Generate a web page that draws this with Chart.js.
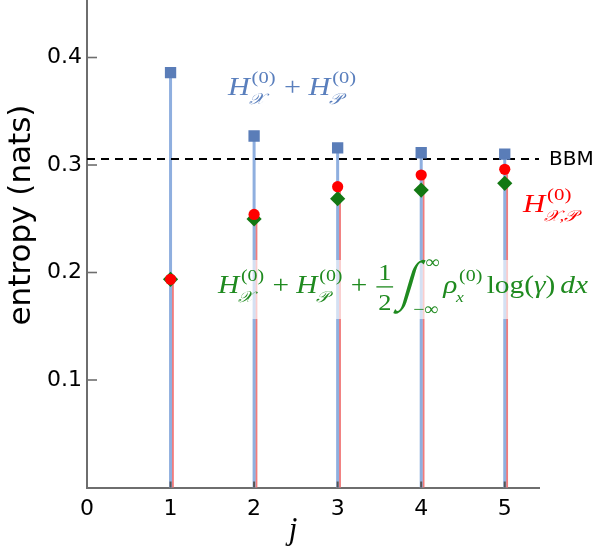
<!DOCTYPE html>
<html>
<head>
<meta charset="utf-8">
<script src="https://cdn.jsdelivr.net/npm/chart.js@4.4.1/dist/chart.umd.min.js"></script>
<style>
  body { margin: 0; background: #fff; }
  #wrap { width: 599px; height: 547px; }
</style>
</head>
<body>
<div id="wrap"><canvas id="entropyChart" width="599" height="547"></canvas></div>
<script>
// values
const jValues = [1, 2, 3, 4, 5];
const sumEntropy = [0.386, 0.327, 0.316, 0.3114, 0.3102];          // H_X + H_P
const jointEntropy = [0.1937, 0.254, 0.2798, 0.2907, 0.296];        // H_X,P
const correctedEntropy = [0.1937, 0.2498, 0.2687, 0.2767, 0.283];   // H_X + H_P + 1/2 int ...
const bbmBound = 0.3056;
const xTickLabels = ["0", "1", "2", "3", "4", "5"];
const yTickLabels = ["0.1", "0.2", "0.3", "0.4"];
const xMax = 5.41;
const yMax = 0.4535;

const axisGrey = "#6e6e6e";
const SERIF = '"Liberation Serif", "DejaVu Serif", serif';

function serif(style, px) {
    return (style === "i" ? "italic " : "") + px + "px " + SERIF;
}

// tiny math typesetter: lays out runs left to right from baseline 0
function mathLayout(ctx, items, size, draw) {
    const small = size * 0.68;
    const tiny = size * 0.6;
    let x = 0;
    for (const it of items) {
        if (it.t !== undefined) {
            ctx.font = serif(it.f, size);
            if (draw) ctx.fillText(it.t, x, 0);
            x += ctx.measureText(it.t).width;
        } else if (it.sp !== undefined) {
            x += it.sp * size;
        } else if (it.sup !== undefined) {
            ctx.font = serif("r", small);
            const wSup = ctx.measureText(it.sup).width;
            if (draw) ctx.fillText(it.sup, x + 0.06 * size, -0.46 * size);
            ctx.font = serif("i", tiny);
            const wSub = ctx.measureText(it.sub).width;
            if (draw) ctx.fillText(it.sub, x - 0.04 * size, 0.34 * size);
            x += Math.max(wSup + 0.06 * size, wSub - 0.04 * size) + 0.03 * size;
        } else if (it.frac !== undefined) {
            ctx.font = serif("r", size * 0.9);
            const [n, d] = it.frac;
            const w = Math.max(ctx.measureText(n).width, ctx.measureText(d).width) + 0.24 * size;
            if (draw) {
                ctx.textAlign = "center";
                ctx.fillText(n, x + w / 2, -0.5 * size);
                ctx.fillText(d, x + w / 2, 0.66 * size);
                ctx.textAlign = "left";
                ctx.fillRect(x + 0.06 * size, -0.26 * size, w - 0.12 * size, Math.max(1.2, 0.05 * size));
            }
            x += w;
        } else if (it.int !== undefined) {
            const [lo, hi] = it.int;
            ctx.font = serif("r", 100);
            const m0 = ctx.measureText("\u222B");
            const h0 = m0.actualBoundingBoxAscent + m0.actualBoundingBoxDescent;
            const px = 100 * (2.1 * size) / h0;
            ctx.font = serif("r", px);
            const m = ctx.measureText("\u222B");
            const base = -0.25 * size + (m.actualBoundingBoxAscent - m.actualBoundingBoxDescent) / 2;
            if (draw) {
                ctx.save();
                ctx.translate(x + 0.12 * size, base);
                ctx.transform(0.72, 0, -0.26, 1, 0, 0);
                ctx.fillText("\u222B", 0, 0);
                ctx.restore();
            }
            ctx.font = serif("r", small);
            const wLo = ctx.measureText(lo).width;
            if (draw) {
                ctx.fillText(hi, x + 1.0 * size, -0.98 * size);
                ctx.fillText(lo, x + 0.58 * size, 0.86 * size);
            }
            x += 0.58 * size + wLo + 0.15 * size;
        }
    }
    return x;
}

function drawMath(ctx, items, x0, baseline, size, targetWidth, color) {
    ctx.save();
    ctx.textBaseline = "alphabetic";
    ctx.textAlign = "left";
    const natural = mathLayout(ctx, items, size, false);
    const k = targetWidth / natural;
    ctx.translate(x0, baseline);
    ctx.scale(k, 1);
    ctx.fillStyle = color;
    mathLayout(ctx, items, size, true);
    ctx.restore();
}

const blueLabel = [
    { t: "H", f: "i" }, { sup: "(0)", sub: "\u{1D4B3}" },
    { t: " + ", f: "r" },
    { t: "H", f: "i" }, { sup: "(0)", sub: "\u{1D4AB}" }
];
const redLabel = [
    { t: "H", f: "i" }, { sup: "(0)", sub: "\u{1D4B3},\u{1D4AB}" }
];
const greenLabel = [
    { t: "H", f: "i" }, { sup: "(0)", sub: "\u{1D4B3}" },
    { t: " + ", f: "r" },
    { t: "H", f: "i" }, { sup: "(0)", sub: "\u{1D4AB}" },
    { t: " + ", f: "r" },
    { frac: ["1", "2"] },
    { sp: 0.05 },
    { int: ["\u2212\u221E", "\u221E"] },
    { t: "\u03C1", f: "i" }, { sup: "(0)", sub: "x" },
    { sp: 0.12 },
    { t: "log(", f: "r" }, { t: "\u03B3", f: "i" }, { t: ")", f: "r" },
    { sp: 0.17 },
    { t: "dx", f: "i" }
];

const stemPlugin = {
    id: "stems",
    beforeDatasetsDraw(chart) {
        const ctx = chart.ctx;
        const y0 = chart.scales.y.getPixelForValue(0);
        chart.data.datasets.forEach((ds, i) => {
            if (!ds.stemColor) return;
            const meta = chart.getDatasetMeta(i);
            ctx.save();
            ctx.strokeStyle = ds.stemColor;
            ctx.lineWidth = ds.stemWidth;
            meta.data.forEach(pt => {
                ctx.beginPath();
                ctx.moveTo(pt.x + ds.stemShift, pt.y);
                ctx.lineTo(pt.x + ds.stemShift, y0);
                ctx.stroke();
            });
            ctx.restore();
        });
    }
};

const decorPlugin = {
    id: "decor",
    afterDatasetsDraw(chart) {
        const { ctx, chartArea, scales: { x, y } } = chart;
        ctx.save();
        // white veil behind the long green formula
        ctx.fillStyle = "rgba(255,255,255,0.62)";
        ctx.fillRect(212, 260, 382, 59);

        // inward ticks on the y axis
        ctx.strokeStyle = axisGrey;
        ctx.lineWidth = 1.6;
        y.ticks.forEach(t => {
            const hund = Math.round(t.value * 100);
            if (hund === 0 || Math.abs(t.value * 100 - hund) > 1e-6) return;
            const len = hund % 10 === 0 ? 10 : 6;
            const py = y.getPixelForValue(t.value);
            ctx.beginPath();
            ctx.moveTo(chartArea.left, py);
            ctx.lineTo(chartArea.left + len, py);
            ctx.stroke();
        });
        // short upward ticks on the x axis
        ctx.strokeStyle = "#555";
        ctx.lineWidth = 2;
        x.ticks.forEach(t => {
            if (!Number.isInteger(t.value) || t.value === 0) return;
            const px = x.getPixelForValue(t.value);
            ctx.beginPath();
            ctx.moveTo(px, chartArea.bottom);
            ctx.lineTo(px, chartArea.bottom - 6);
            ctx.stroke();
        });
        ctx.restore();
    },
    afterDraw(chart) {
        const { ctx, scales: { y } } = chart;
        ctx.save();
        ctx.fillStyle = "#000";
        ctx.textBaseline = "alphabetic";

        ctx.save();
        ctx.font = '31px "DejaVu Sans"';
        ctx.textAlign = "center";
        ctx.translate(30, 215);
        ctx.rotate(-Math.PI / 2);
        ctx.fillText("entropy (nats)", 0, 0);
        ctx.restore();

        ctx.font = "italic 31px " + SERIF;
        ctx.textAlign = "center";
        ctx.fillText("j", 293, 539);

        ctx.font = '20px "DejaVu Sans"';
        ctx.textAlign = "left";
        ctx.textBaseline = "middle";
        ctx.fillText("BBM", 549, y.getPixelForValue(bbmBound) + 1);
        ctx.restore();

        drawMath(ctx, blueLabel, 228, 95, 26, 129, "#5a7fbd");
        drawMath(ctx, redLabel, 523, 212, 26, 55, "#ff0000");
        drawMath(ctx, greenLabel, 218, 293, 26, 370, "#1f8a1f");
    }
};

const tickFont = { family: "DejaVu Sans", size: 22 };

new Chart(document.getElementById("entropyChart"), {
    type: "scatter",
    data: {
        datasets: [
            {
                label: "joint",
                data: jValues.map((j, i) => ({ x: j, y: jointEntropy[i] })),
                pointStyle: "circle",
                pointRadius: 5.6,
                pointBackgroundColor: "#ff0000",
                pointBorderWidth: 0,
                stemColor: "#f27b7b",
                stemWidth: 2.2,
                stemShift: 2.2,
                order: 1
            },
            {
                label: "corrected",
                data: jValues.map((j, i) => ({ x: j, y: correctedEntropy[i] })),
                pointStyle: "rectRot",
                pointRadius: 7.6,
                pointBackgroundColor: "#137813",
                pointBorderWidth: 0,
                order: 2
            },
            {
                label: "sum",
                data: jValues.map((j, i) => ({ x: j, y: sumEntropy[i] })),
                pointStyle: "rect",
                pointRadius: 8,
                pointBackgroundColor: "#5a7db8",
                pointBorderWidth: 0,
                stemColor: "#8fafdf",
                stemWidth: 3,
                stemShift: 0,
                order: 3
            },
            {
                label: "BBM",
                data: [{ x: 0, y: bbmBound }, { x: xMax, y: bbmBound }],
                showLine: true,
                borderColor: "#000",
                borderWidth: 2,
                borderDash: [8, 6],
                pointRadius: 0,
                order: 4
            }
        ]
    },
    options: {
        responsive: false,
        animation: false,
        layout: { autoPadding: false, padding: { left: 0, right: 60, top: 0, bottom: 0 } },
        plugins: { legend: { display: false }, tooltip: { enabled: false } },
        scales: {
            x: {
                type: "linear",
                min: 0,
                max: xMax,
                afterFit(s) { s.height = 59.5; s.paddingLeft = 0; s.paddingRight = 0; },
                grid: { display: false, drawTicks: false },
                border: { display: true, color: axisGrey, width: 2 },
                ticks: {
                    stepSize: 1,
                    includeBounds: false,
                    padding: 9,
                    color: "#000",
                    font: tickFont,
                    maxRotation: 0,
                    autoSkip: false,
                    callback: v => Number.isInteger(v) ? xTickLabels[v] : null
                }
            },
            y: {
                type: "linear",
                min: 0,
                max: yMax,
                afterFit(s) { s.width = 87; s.paddingTop = 0; s.paddingBottom = 0; },
                grid: { display: false, drawTicks: false },
                border: { display: true, color: axisGrey, width: 2 },
                ticks: {
                    stepSize: 0.02,
                    includeBounds: false,
                    padding: 5,
                    color: "#000",
                    font: tickFont,
                    autoSkip: false,
                    callback: v => {
                        const s = v.toFixed(1);
                        return Math.abs(v - parseFloat(s)) < 1e-9 && yTickLabels.includes(s) ? s : null;
                    }
                }
            }
        }
    },
    plugins: [stemPlugin, decorPlugin]
});
</script>
</body>
</html>
